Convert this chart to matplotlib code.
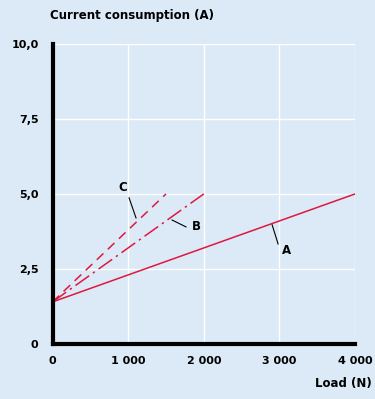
import numpy as np
import matplotlib.pyplot as plt

# data
load_a = [0, 4000]
current_a = [1.4, 5.0]
load_b = [0, 2000]
current_b = [1.4, 5.0]
load_c = [0, 1500]
current_c = [1.4, 5.0]

x_ticks = [0, 1000, 2000, 3000, 4000]
x_labels = ["0", "1 000", "2 000", "3 000", "4 000"]
y_ticks = [0, 2.5, 5.0, 7.5, 10.0]
y_labels = ["0", "2,5", "5,0", "7,5", "10,0"]

bg = "#dbeaf6"
red = "#e0173f"

fig = plt.figure(figsize=(3.75, 3.99), dpi=100, facecolor=bg)
ax = fig.add_axes([0.14, 0.138, 0.807, 0.752], facecolor=bg)

ax.set_xlim(0, 4000)
ax.set_ylim(0, 10)
ax.set_xticks(x_ticks)
ax.set_xticklabels(x_labels)
ax.set_yticks(y_ticks)
ax.set_yticklabels(y_labels)
ax.grid(color="white", linewidth=1.0)
ax.set_axisbelow(True)
ax.tick_params(length=0, labelsize=8, pad=10)
ax.tick_params(axis="x", pad=9)
for lbl in ax.get_xticklabels() + ax.get_yticklabels():
    lbl.set_fontweight("bold")
for s in ["top", "right"]:
    ax.spines[s].set_visible(False)
for s in ["left", "bottom"]:
    ax.spines[s].set_linewidth(3)
    ax.spines[s].set_color("black")

ax.plot(load_a, current_a, color=red, linewidth=1.1, solid_capstyle="butt")
ax.plot(load_b, current_b, color=red, linewidth=1.1, linestyle=(0, (11, 3, 1.5, 3)))
ax.plot(load_c, current_c, color=red, linewidth=1.1, linestyle=(0, (6, 4)))

# leader lines and letters
ax.plot([1012, 1104], [4.87, 4.2], color="black", linewidth=0.8)
ax.text(932, 5.2, "C", fontsize=8.5, fontweight="bold", ha="center", va="center")
ax.plot([1580, 1765], [4.13, 3.9], color="black", linewidth=0.8)
ax.text(1900, 3.9, "B", fontsize=8.5, fontweight="bold", ha="center", va="center")
ax.plot([2903, 2982], [3.97, 3.33], color="black", linewidth=0.8)
ax.text(3087, 3.1, "A", fontsize=8.5, fontweight="bold", ha="center", va="center")

fig.text(50 / 375, 1 - 15 / 399, "Current consumption (A)", fontsize=8.5,
         fontweight="bold", ha="left", va="center")
fig.text(372 / 375, 1 - 383 / 399, "Load (N)", fontsize=8.5,
         fontweight="bold", ha="right", va="center")

fig.savefig("out.png", dpi=100, facecolor=bg)
